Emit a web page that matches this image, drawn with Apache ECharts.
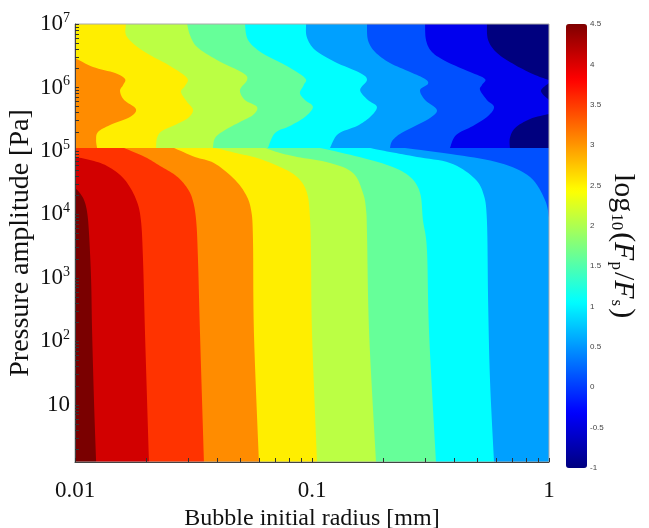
<!DOCTYPE html>
<html>
<head>
<meta charset="utf-8">
<script src="https://cdn.jsdelivr.net/npm/echarts@6/dist/echarts.min.js"></script>
<style>
  html, body { margin: 0; background: #fff; }
  #chart { width: 649px; height: 528px; }
</style>
</head>
<body>
<div id="chart"></div>
<script>
// contour lines of log10(Fp/Fs), points are [log10 radius (mm), log10 pressure (Pa)]
// each path runs from the top/left edge to the bottom/right edge;
// the band right of it (value < level) is filled
const levels = [4.5, 4, 3.5, 3, 2.5, 2, 1.5, 1, 0.5, 0, -0.5, -1];
const jumpPressure = 5.047; // log10 P where the field jumps (about 1.1e5 Pa)

const contourFull = [[-2, 7], [-2, 0.1]];
const contour4 = [[-2, 7], [-2, 4.417], [-1.983, 4.354], [-1.962, 4.228], [-1.949, 4.039], [-1.941, 3.709], [-1.932, 2.969], [-1.928, 2.181], [-1.920, 1.079], [-1.911, 0.1]];
const contour35 = [[-2, 7], [-2, 4.906], [-1.937, 4.858], [-1.865, 4.764], [-1.793, 4.559], [-1.743, 4.244], [-1.722, 3.913], [-1.713, 3.283], [-1.705, 2.181], [-1.696, 1.079], [-1.688, 0.1]];
const contour3 = [[-2, 7], [-2, 5.047], [-1.793, 5.047], [-1.705, 4.906], [-1.641, 4.764], [-1.578, 4.622], [-1.536, 4.465], [-1.506, 4.260], [-1.489, 3.913], [-1.481, 3.283], [-1.473, 2.181], [-1.456, 0.1]];
const contour25 = [[-2, 7], [-2, 6.465], [-1.924, 6.323], [-1.831, 6.228], [-1.789, 6.134], [-1.797, 6.039], [-1.810, 5.945], [-1.793, 5.803], [-1.743, 5.661], [-1.768, 5.535], [-1.852, 5.409], [-1.903, 5.299], [-1.911, 5.173], [-1.907, 5.047],
  [-1.582, 5.047], [-1.494, 4.906], [-1.414, 4.811], [-1.333, 4.575], [-1.283, 4.339], [-1.257, 4.071], [-1.249, 3.598], [-1.245, 2.134], [-1.224, 0.1]];
const contour2 = [[-1.785, 7], [-1.785, 6.827], [-1.747, 6.669], [-1.684, 6.512], [-1.599, 6.339], [-1.527, 6.150], [-1.536, 6.024], [-1.553, 5.929], [-1.527, 5.772], [-1.502, 5.646], [-1.523, 5.520], [-1.578, 5.409], [-1.633, 5.315], [-1.654, 5.205], [-1.658, 5.047],
  [-1.409, 5.047], [-1.304, 4.953], [-1.232, 4.890], [-1.135, 4.748], [-1.063, 4.591], [-1.021, 4.339], [-1.008, 3.913], [-1.004, 3.283], [-1.000, 2.134], [-0.979, 0.1]];
const contour15 = [[-1.527, 7], [-1.515, 6.827], [-1.485, 6.638], [-1.401, 6.433], [-1.291, 6.228], [-1.274, 6.118], [-1.304, 5.961], [-1.283, 5.803], [-1.232, 5.693], [-1.249, 5.567], [-1.304, 5.457], [-1.367, 5.331], [-1.409, 5.205], [-1.418, 5.047],
  [-1.198, 5.047], [-1.135, 4.969], [-1.063, 4.906], [-0.924, 4.811], [-0.827, 4.654], [-0.785, 4.339], [-0.772, 4.071], [-0.768, 3.709], [-0.759, 2.134], [-0.730, 0.1]];
const contour1 = [[-1.283, 7], [-1.270, 6.748], [-1.211, 6.543], [-1.114, 6.354], [-1.030, 6.150], [-1.035, 6.039], [-1.051, 5.913], [-1.030, 5.803], [-0.996, 5.693], [-1.030, 5.535], [-1.093, 5.394], [-1.156, 5.283], [-1.186, 5.047],
  [-0.966, 5.047], [-0.819, 4.921], [-0.671, 4.764], [-0.586, 4.591], [-0.544, 4.339], [-0.532, 3.913], [-0.515, 3.441], [-0.506, 2.134], [-0.477, 0.1]];
const contour05 = [[-1.025, 7], [-1.022, 6.795], [-0.987, 6.591], [-0.903, 6.402], [-0.797, 6.228], [-0.768, 6.118], [-0.797, 5.961], [-0.764, 5.803], [-0.726, 5.693], [-0.755, 5.535], [-0.810, 5.394], [-0.890, 5.268], [-0.924, 5.047],
  [-0.755, 5.047], [-0.671, 4.984], [-0.557, 4.906], [-0.418, 4.811], [-0.321, 4.591], [-0.278, 4.339], [-0.262, 3.913], [-0.257, 2.654], [-0.249, 1.394], [-0.232, 0.1]];
const contour0 = [[-0.768, 7], [-0.764, 6.748], [-0.734, 6.559], [-0.671, 6.386], [-0.586, 6.244], [-0.523, 6.134], [-0.511, 6.055], [-0.544, 5.961], [-0.523, 5.803], [-0.473, 5.646], [-0.502, 5.520], [-0.565, 5.394], [-0.629, 5.268], [-0.662, 5.157], [-0.671, 5.047],
  [-0.608, 5.047], [-0.388, 4.937], [-0.207, 4.811], [-0.080, 4.591], [-0.017, 4.228], [0, 3.95]];
const contourM05 = [[-0.523, 7], [-0.519, 6.748], [-0.494, 6.559], [-0.430, 6.402], [-0.333, 6.244], [-0.270, 6.134], [-0.283, 6.039], [-0.291, 5.961], [-0.262, 5.803], [-0.232, 5.693], [-0.257, 5.551], [-0.321, 5.394], [-0.392, 5.252], [-0.418, 5.047], [0, 5.047]];
const contourM1 = [[-0.262, 7], [-0.257, 6.748], [-0.219, 6.543], [-0.143, 6.354], [-0.059, 6.197], [0, 6.118], [0, 6.071], [-0.034, 5.945], [0, 5.803], [0, 5.583], [-0.080, 5.504], [-0.143, 5.362], [-0.165, 5.205], [-0.165, 5.047], [0, 5.047]];

const contourPaths = [contourFull, contour4, contour35, contour3, contour25, contour2, contour15, contour1, contour05, contour0, contourM05, contourM1];
const bandColors = ['#7a0000', '#d20000', '#ff3300', '#ff8c00', '#ffee00', '#bbff44', '#66ff99', '#00ffff', '#00a0ff', '#0050ff', '#0000ee', '#00007f'];

const xLabels = [-2, -1, 0];           // 0.01, 0.1, 1 mm
const yLabels = [1, 2, 3, 4, 5, 6, 7];   // 10 .. 10^7 Pa
const barTicks = [4.5, 4, 3.5, 3, 2.5, 2, 1.5, 1, 0.5, 0, -0.5, -1];

const xMin = -2, xMax = 0, yMin = 0.1, yMax = 7;

function logTicks(lo, hi) {
  const out = [];
  for (let n = Math.floor(lo); n < hi; n++) {
    for (let k = 1; k <= 9; k++) {
      const v = n + Math.log10(k);
      if (v >= lo - 1e-9 && v <= hi + 1e-9) out.push(v);
    }
  }
  out.push(hi);
  return out;
}

// corners: points on the plot edge or on the jump line keep a sharp angle
function isCorner(p) {
  return p[0] <= xMin || p[0] >= xMax || p[1] >= yMax || p[1] <= yMin || Math.abs(p[1] - jumpPressure) < 1e-9;
}

// catmull-rom through the pixel points of one run
function smoothRun(run) {
  if (run.length < 3) return run.slice();
  const out = [];
  for (let i = 0; i < run.length - 1; i++) {
    const p0 = run[Math.max(i - 1, 0)], p1 = run[i], p2 = run[i + 1], p3 = run[Math.min(i + 2, run.length - 1)];
    for (let s = 0; s < 8; s++) {
      const t = s / 8, t2 = t * t, t3 = t2 * t;
      const f = k => 0.5 * (2 * p1[k] + (p2[k] - p0[k]) * t + (2 * p0[k] - 5 * p1[k] + 4 * p2[k] - p3[k]) * t2 + (3 * p1[k] - p0[k] - 3 * p2[k] + p3[k]) * t3);
      out.push([f(0), f(1)]);
    }
  }
  out.push(run[run.length - 1]);
  return out;
}

function smoothPath(path, api) {
  const px = path.map(p => api.coord(p));
  const out = [];
  let run = [px[0]];
  for (let i = 1; i < path.length; i++) {
    run.push(px[i]);
    if (isCorner(path[i]) || i === path.length - 1) {
      const s = smoothRun(run);
      if (out.length) s.shift();
      out.push(...s);
      run = [px[i]];
    }
  }
  return out;
}

const serif = 'Liberation Serif';
const jet = ['#00007f', '#0000ff', '#007fff', '#00ffff', '#7fff7f', '#ffff00', '#ff7f00', '#ff0000', '#7f0000'];

const chart = echarts.init(document.getElementById('chart'));
chart.setOption({
  animation: false,
  grid: [
    { left: 75, right: 100, top: 24, bottom: 66, show: true, z: 3, backgroundColor: 'transparent', borderColor: '#aaa', borderWidth: 1, outerBoundsMode: 'none', containLabel: false },
    { left: 566, top: 24, width: 21, height: 444, outerBoundsMode: 'none', containLabel: false }
  ],
  xAxis: [
    {
      type: 'value', min: xMin, max: xMax, z: 5,
      axisLine: { lineStyle: { color: '#444' } },
      axisTick: { inside: true, length: 4, customValues: logTicks(xMin, xMax), lineStyle: { color: '#333' } },
      axisLabel: {
        customValues: xLabels, margin: 17, color: '#111', fontFamily: serif, fontSize: 23,
        formatter: v => ({ '-2': '0.01', '-1': '0.1', '0': '1' })[String(Math.round(v))]
      },
      splitLine: { show: false },
      name: 'Bubble initial radius [mm]', nameLocation: 'middle', nameGap: 37,
      nameTextStyle: { fontFamily: serif, fontSize: 24, color: '#111' }
    },
    { gridIndex: 1, type: 'category', data: [''], show: false }
  ],
  yAxis: [
    {
      type: 'value', min: yMin, max: yMax, z: 5, position: 'left',
      axisLine: { show: true, onZero: false, lineStyle: { color: '#444' } },
      axisTick: { show: false },
      axisLabel: {
        customValues: yLabels, margin: 5,
        formatter: v => {
          const n = Math.round(v);
          return n === 1 ? '{b|10}' : '{b|10}{s|' + n + '}';
        },
        rich: {
          b: { fontFamily: serif, fontSize: 23, color: '#111' },
          s: { fontFamily: serif, fontSize: 14, color: '#111', padding: [0, 0, 12, 0] }
        }
      },
      splitLine: { show: false },
      name: 'Pressure amplitude [Pa]', nameLocation: 'middle', nameGap: 40, nameRotate: 90, nameMoveOverlap: false,
      nameTextStyle: { fontFamily: serif, fontSize: 28, color: '#111' }
    },
    {
      gridIndex: 1, type: 'value', min: -1, max: 4.5, interval: 0.5, position: 'right', z: 10,
      axisLine: { show: false },
      axisTick: { inside: true, length: 4, customValues: barTicks, lineStyle: { color: '#333' } },
      axisLabel: { customValues: barTicks, margin: 3, fontSize: 8, color: '#444', fontFamily: 'Liberation Sans' },
      splitLine: { show: false },
      name: 'log{sub|10}({i|F}{sub|p}/{i|F}{sub|s})', nameLocation: 'middle', nameRotate: -90, nameGap: 11,
      nameTextStyle: {
        rich: {
          sub: { fontFamily: serif, fontSize: 17, color: '#111', padding: [12, 2, 0, 1] },
          i: { fontFamily: serif, fontSize: 30, fontStyle: 'italic', color: '#111' }
        },
        fontFamily: serif, fontSize: 30, color: '#111'
      }
    },
    {
      // log minor/major ticks on the left edge only
      type: 'value', min: yMin, max: yMax, z: 5, position: 'left', offset: 0,
      axisLine: { show: false, onZero: false },
      axisTick: { show: true, inside: true, length: 4, customValues: logTicks(yMin, yMax), lineStyle: { color: '#333' } },
      axisLabel: { show: false },
      splitLine: { show: false }
    }
  ],
  visualMap: {
    type: 'continuous', min: -1, max: 4.5, seriesIndex: [],
    left: 566, top: 24, itemWidth: 21, itemHeight: 444, padding: 0,
    calculable: false, text: null, hoverLink: false,
    inRange: { color: jet }
  },
  series: [{
    type: 'custom', z: 1,
    xAxisIndex: 0, yAxisIndex: 0,
    data: levels.map((L, i) => [i]),
    renderItem: function (params, api) {
      const path = contourPaths[params.dataIndex];
      const pts = smoothPath(path, api);
      const last = path[path.length - 1];
      if (last[0] < xMax) pts.push(api.coord([xMax, last[1]]));
      pts.push(api.coord([xMax, yMax]));
      return {
        type: 'polygon',
        shape: { points: pts },
        style: { fill: bandColors[params.dataIndex], stroke: null }
      };
    }
  }]
});
</script>
</body>
</html>
